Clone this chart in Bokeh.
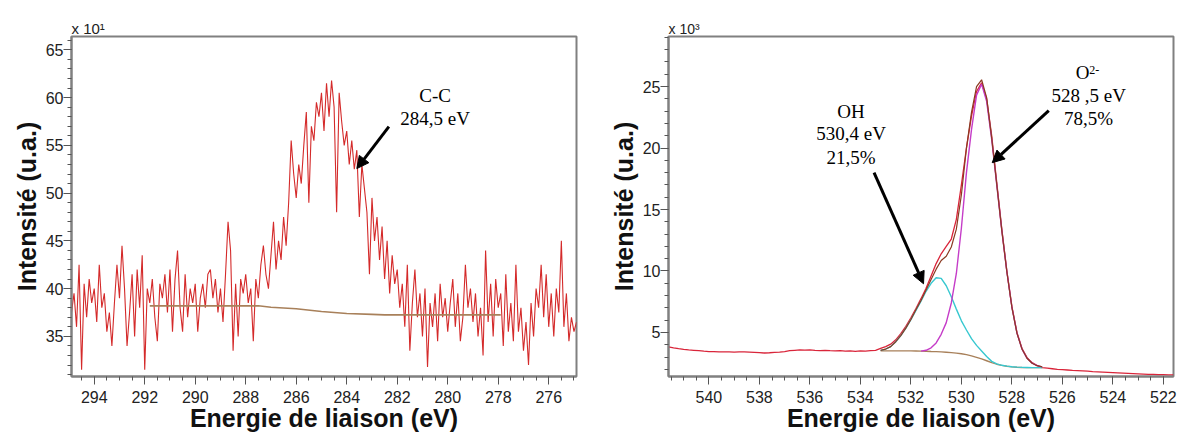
import numpy as np
from bokeh.plotting import figure
from bokeh.layouts import row
from bokeh.models import Range1d, Label, Arrow, NormalHead, SingleIntervalTicker
from bokeh.embed import file_html
from bokeh.resources import INLINE

# ---------------- Left panel : C 1s (intensity x 10^1) ----------------
c1s_start = 294.9
c1s_step = -0.1
c1s_intensity = [
    37.5, 39.5, 36.0, 42.5, 31.5, 40.5, 37.0, 41.0, 38.5, 40.0,
    36.5, 42.5, 38.0, 39.5, 35.5, 37.5, 34.0, 38.5, 42.5, 39.0,
    44.5, 40.0, 34.0, 37.5, 41.5, 35.0, 42.0, 38.0, 43.5, 31.5,
    40.0, 38.5, 41.0, 37.0, 34.5, 40.5, 39.0, 41.5, 37.5, 42.0,
    35.5, 41.0, 44.0, 38.0, 35.5, 41.5, 37.0, 40.0, 38.5, 40.5,
    35.5, 39.0, 40.5, 38.0, 41.5, 42.0, 39.0, 41.0, 37.5, 40.0,
    36.5, 41.5, 47.0, 44.0, 33.5, 40.5, 35.0, 41.0, 39.5, 41.5,
    38.5, 40.0, 34.5, 41.0, 39.0, 42.5, 44.5, 41.5, 40.0, 43.5,
    47.0, 42.0, 45.0, 43.0, 47.5, 44.5, 49.0, 55.5, 52.0, 49.5,
    53.0, 51.0, 55.0, 58.5, 49.0, 57.0, 55.5, 59.5, 58.0, 60.5,
    56.5, 61.5, 58.0, 61.8, 59.0, 48.0, 60.5, 57.5, 55.0, 56.5,
    53.0, 55.5, 52.5, 54.5, 47.5, 53.0, 50.5, 48.0, 41.5, 49.5,
    45.0, 47.5, 43.0, 46.5, 41.0, 45.0, 39.5, 43.5, 40.5, 42.0,
    38.0, 40.5, 36.0, 42.5, 33.5, 38.5, 42.0, 37.0, 39.5, 35.0,
    40.0, 31.8, 38.5, 36.0, 39.5, 34.5, 40.5, 37.0, 39.0, 35.5,
    38.5, 41.0, 36.0, 39.5, 34.5, 37.0, 42.5, 38.0, 40.0, 36.5,
    39.5, 35.0, 38.0, 33.0, 44.0, 36.5, 40.5, 35.0, 41.0, 38.0,
    39.5, 34.0, 41.5, 35.5, 38.5, 34.5, 42.5, 35.5, 38.0, 33.5,
    36.5, 32.0, 38.5, 35.0, 40.0, 38.0, 42.5, 37.0, 41.5, 36.0,
    39.5, 35.0, 40.0, 37.5, 45.0, 36.0, 39.5, 34.5, 37.0, 35.5,
    36.5,
]
c1s_energy = [round(c1s_start + i * c1s_step, 2) for i in range(len(c1s_intensity))]

c1s_bg_energy = [291.8, 287.5, 287.0, 286.0, 285.0, 284.0, 283.0, 282.5, 277.9]
c1s_bg = [38.2, 38.2, 38.05, 37.9, 37.6, 37.4, 37.3, 37.25, 37.25]

# ---------------- Right panel : O 1s (intensity x 10^3) ----------------
o1s_start = 541.6
o1s_step = -0.2
o1s_data = [
    3.83, 3.75, 3.68, 3.62, 3.58, 3.55, 3.52, 3.48, 3.45,
    3.44, 3.42, 3.43, 3.42, 3.41, 3.43, 3.42, 3.40, 3.38, 3.36,
    3.33, 3.35, 3.38, 3.40, 3.45, 3.52, 3.55, 3.58, 3.56, 3.58,
    3.55, 3.53, 3.55, 3.52, 3.50, 3.52, 3.48, 3.50, 3.47, 3.50,
    3.48, 3.52, 3.55, 3.70, 3.85, 4.05, 4.40, 4.90, 5.50, 6.20,
    6.95, 7.75, 8.60, 9.60, 10.6, 11.4, 12.0, 12.6, 14.2, 17.0,
    20.0, 22.6, 24.6, 25.3, 24.0, 21.0, 17.2, 13.4, 10.0, 7.10,
    5.00, 3.70, 2.95, 2.55, 2.30, 2.15, 2.10, 2.05, 2.00, 1.98,
    1.95, 1.92, 1.90, 1.88, 1.85, 1.82, 1.80, 1.78, 1.76, 1.74,
    1.72, 1.70, 1.68, 1.66, 1.64, 1.62, 1.60, 1.60, 1.58, 1.57,
    1.56, 1.55,
]
o1s_energy = [round(o1s_start + i * o1s_step, 2) for i in range(len(o1s_data))]

fit_start = 533.2
fit_step = -0.2
o1s_envelope = [
    3.55, 3.65, 3.85, 4.25, 4.75, 5.35, 6.05, 6.85, 7.60, 8.45,
    9.30, 10.15, 10.85, 11.2, 11.95, 13.4, 16.2, 20.0, 22.9, 25.0,
    25.55, 24.1, 20.8, 17.05, 13.3, 9.95, 7.05, 4.95, 3.65, 2.90,
    2.50, 2.30, 2.20,
]
o1s_oh = [
    3.55, 3.65, 3.85, 4.25, 4.75, 5.35, 6.05, 6.80, 7.55, 8.35,
    9.00, 9.45, 9.40, 8.80, 7.90, 6.90, 5.95, 5.20, 4.50, 3.95,
    3.50, 3.05, 2.65, 2.45, 2.33, 2.26, 2.21, 2.18, 2.16, 2.15,
    2.14, 2.14, 2.14,
]
o1s_bg = [
    3.50, 3.50, 3.50, 3.50, 3.50, 3.50, 3.50, 3.49, 3.48, 3.47,
    3.45, 3.44, 3.42, 3.39, 3.36, 3.32, 3.27, 3.20, 3.10, 2.98,
    2.85, 2.70, 2.55, 2.42, 2.32, 2.25, 2.20, 2.17, 2.15, 2.14,
    2.14, 2.14, 2.14,
]
fit_energy = [round(fit_start + i * fit_step, 2) for i in range(len(o1s_envelope))]

o2_start = 531.6
o1s_o2 = [
    3.48, 3.55, 3.75, 4.15, 4.85, 5.80, 7.40, 9.80, 13.5, 18.0,
    21.5, 24.3, 25.2, 23.8, 20.7, 17.0, 13.3, 9.95, 7.05, 4.95,
    3.65, 2.90, 2.50, 2.30, 2.20,
]
o2_energy = [round(o2_start + i * fit_step, 2) for i in range(len(o1s_o2))]

AX_FONT = "Liberation Sans"
SERIF = "Liberation Serif"
H = 437


def make_fig(width, bl, br, xr, yr, xint, yint, scale_text, scale_size):
    p = figure(width=width, height=H, x_range=Range1d(*xr), y_range=Range1d(*yr),
               output_backend="svg", toolbar_location=None,
               min_border_left=bl, min_border_right=br, min_border_top=36, min_border_bottom=61)
    p.xgrid.visible = False
    p.ygrid.visible = False
    p.outline_line_color = "#808080"
    p.outline_line_width = 2
    p.background_fill_color = "white"
    p.border_fill_color = "white"
    p.xaxis.ticker = SingleIntervalTicker(interval=xint, num_minor_ticks=4)
    p.yaxis.ticker = SingleIntervalTicker(interval=yint, num_minor_ticks=5)
    for ax in (p.xaxis[0], p.yaxis[0]):
        ax.major_tick_out = 8
        ax.major_tick_in = 0
        ax.minor_tick_out = 4
        ax.minor_tick_in = 0
        ax.axis_line_color = "#808080"
        ax.axis_line_width = 2
        ax.major_tick_line_color = "#555555"
        ax.minor_tick_line_color = "#555555"
        ax.major_label_text_font = AX_FONT
        ax.major_label_text_font_size = "16px"
        ax.major_label_text_color = "#222222"
        ax.axis_label_text_font = AX_FONT
        ax.axis_label_text_font_size = "25px"
        ax.axis_label_text_font_style = "bold"
        ax.axis_label_text_color = "#111111"
    p.xaxis.major_label_standoff = 6
    p.yaxis.major_label_standoff = 0
    p.yaxis.axis_label = "Intensité (u.a.)"
    p.yaxis.axis_label_standoff = 2
    p.xaxis.axis_label = "Energie de liaison (eV)"
    p.xaxis.axis_label_standoff = -2
    # scale factor shown above the frame
    p.title.text = scale_text
    p.title.align = "left"
    p.title.offset = 0
    p.title.standoff = 0
    p.title.text_font = AX_FONT
    p.title.text_font_size = scale_size
    p.title.text_font_style = "normal"
    p.title.text_color = "#222222"
    return p


# ---------------- left figure ----------------
left_xr = (294.9, 274.9)
left_yr = (30.8, 66.4)
p1 = make_fig(600, 71, 24, left_xr, left_yr, 2, 5, "x 10¹", "15px")
p1.line(c1s_energy, c1s_intensity, line_color="#d42a2a", line_width=1.1)
p1.line(c1s_bg_energy, c1s_bg, line_color="#a8805a", line_width=1.6)

p1.add_layout(Label(x=280.5, y=60.27, text="C-C", text_align="center", text_baseline="middle",
                    text_font=SERIF, text_font_size="19px", text_color="black"))
p1.add_layout(Label(x=280.5, y=57.8, text="284,5 eV", text_align="center", text_baseline="middle",
                    text_font=SERIF, text_font_size="19px", text_color="black"))
p1.add_layout(Arrow(end=NormalHead(size=12, fill_color="black", line_color="black"),
                    x_start=282.33, y_start=56.97, x_end=283.6, y_end=52.57,
                    line_width=3, line_color="black"))

# ---------------- right figure ----------------
right_xr = (541.6, 521.6)
right_yr = (1.42, 29.07)
p2 = make_fig(581, 68, 8, right_xr, right_yr, 2, 5, "x 10³", "14px")
p2.line(o1s_energy, o1s_data, line_color="#d9253a", line_width=1.3)
p2.line(fit_energy, o1s_bg, line_color="#a8805a", line_width=1.4)
p2.line(fit_energy, o1s_oh, line_color="#38c8d0", line_width=1.4)
p2.line(o2_energy, o1s_o2, line_color="#c53cc8", line_width=1.4)
p2.line(fit_energy, o1s_envelope, line_color="#8a3a22", line_width=1.2)

for yv, t in [(22.96, "OH"), (21.17, "530,4 eV"), (19.22, "21,5%")]:
    p2.add_layout(Label(x=534.37, y=yv, text=t, text_align="center", text_baseline="middle",
                        text_font=SERIF, text_font_size="19px", text_color="black"))
p2.add_layout(Label(x=525.2, y=26.14, text="O", text_align="center", text_baseline="middle",
                    text_font=SERIF, text_font_size="19px", text_color="black"))
p2.add_layout(Label(x=524.94, y=26.38, text="2-", text_align="left", text_baseline="middle",
                    text_font=SERIF, text_font_size="12px", text_color="black"))
for yv, t in [(24.27, "528 ,5 eV"), (22.43, "78,5%")]:
    p2.add_layout(Label(x=524.96, y=yv, text=t, text_align="center", text_baseline="middle",
                        text_font=SERIF, text_font_size="19px", text_color="black"))

p2.add_layout(Arrow(end=NormalHead(size=12, fill_color="black", line_color="black"),
                    x_start=533.46, y_start=18.0, x_end=531.5, y_end=8.96,
                    line_width=3, line_color="black"))
p2.add_layout(Arrow(end=NormalHead(size=12, fill_color="black", line_color="black"),
                    x_start=526.54, y_start=23.05, x_end=528.78, y_end=18.81,
                    line_width=3, line_color="black"))

layout = row(p1, p2)
open("out.html", "w").write(file_html(layout, INLINE))
